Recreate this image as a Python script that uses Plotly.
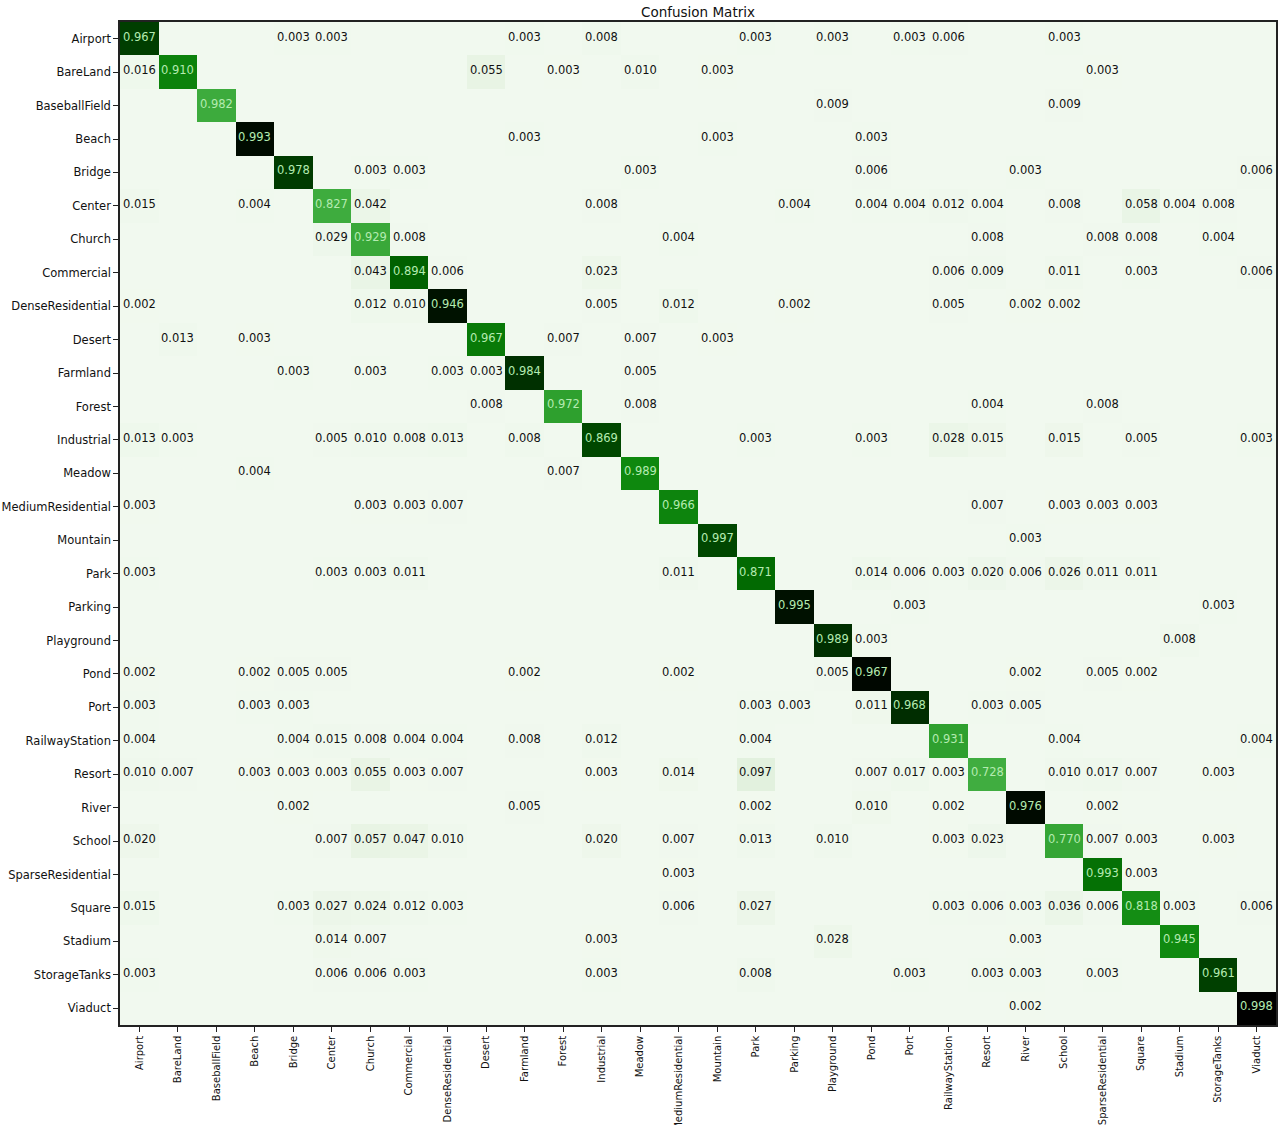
import plotly.graph_objects as go

labels = ["Airport", "BareLand", "BaseballField", "Beach", "Bridge", "Center", "Church",
          "Commercial", "DenseResidential", "Desert", "Farmland", "Forest", "Industrial",
          "Meadow", "MediumResidential", "Mountain", "Park", "Parking", "Playground", "Pond",
          "Port", "RailwayStation", "Resort", "River", "School", "SparseResidential",
          "Square", "Stadium", "StorageTanks", "Viaduct"]

# Approximate number of samples per class (drives the cell shading, as the
# original colours follow raw counts rather than the normalised values)
class_counts = [360, 310, 220, 400, 360, 260, 240, 350, 410, 300, 370, 250, 390, 280, 290,
                340, 350, 390, 370, 420, 380, 260, 290, 410, 300, 300, 330, 290, 360, 420]

# Normalised confusion matrix (rows = true class, columns = predicted class)
values = [
    [.967,0,0,0,.003,.003,0,0,0,0,.003,0,.008,0,0,0,.003,0,.003,0,.003,.006,0,0,.003,0,0,0,0,0],
    [.016,.910,0,0,0,0,0,0,0,.055,0,.003,0,.010,0,.003,0,0,0,0,0,0,0,0,0,.003,0,0,0,0],
    [0,0,.982,0,0,0,0,0,0,0,0,0,0,0,0,0,0,0,.009,0,0,0,0,0,.009,0,0,0,0,0],
    [0,0,0,.993,0,0,0,0,0,0,.003,0,0,0,0,.003,0,0,0,.003,0,0,0,0,0,0,0,0,0,0],
    [0,0,0,0,.978,0,.003,.003,0,0,0,0,0,.003,0,0,0,0,0,.006,0,0,0,.003,0,0,0,0,0,.006],
    [.015,0,0,.004,0,.827,.042,0,0,0,0,0,.008,0,0,0,0,.004,0,.004,.004,.012,.004,0,.008,0,.058,.004,.008,0],
    [0,0,0,0,0,.029,.929,.008,0,0,0,0,0,0,.004,0,0,0,0,0,0,0,.008,0,0,.008,.008,0,.004,0],
    [0,0,0,0,0,0,.043,.894,.006,0,0,0,.023,0,0,0,0,0,0,0,0,.006,.009,0,.011,0,.003,0,0,.006],
    [.002,0,0,0,0,0,.012,.010,.946,0,0,0,.005,0,.012,0,0,.002,0,0,0,.005,0,.002,.002,0,0,0,0,0],
    [0,.013,0,.003,0,0,0,0,0,.967,0,.007,0,.007,0,.003,0,0,0,0,0,0,0,0,0,0,0,0,0,0],
    [0,0,0,0,.003,0,.003,0,.003,.003,.984,0,0,.005,0,0,0,0,0,0,0,0,0,0,0,0,0,0,0,0],
    [0,0,0,0,0,0,0,0,0,.008,0,.972,0,.008,0,0,0,0,0,0,0,0,.004,0,0,.008,0,0,0,0],
    [.013,.003,0,0,0,.005,.010,.008,.013,0,.008,0,.869,0,0,0,.003,0,0,.003,0,.028,.015,0,.015,0,.005,0,0,.003],
    [0,0,0,.004,0,0,0,0,0,0,0,.007,0,.989,0,0,0,0,0,0,0,0,0,0,0,0,0,0,0,0],
    [.003,0,0,0,0,0,.003,.003,.007,0,0,0,0,0,.966,0,0,0,0,0,0,0,.007,0,.003,.003,.003,0,0,0],
    [0,0,0,0,0,0,0,0,0,0,0,0,0,0,0,.997,0,0,0,0,0,0,0,.003,0,0,0,0,0,0],
    [.003,0,0,0,0,.003,.003,.011,0,0,0,0,0,0,.011,0,.871,0,0,.014,.006,.003,.020,.006,.026,.011,.011,0,0,0],
    [0,0,0,0,0,0,0,0,0,0,0,0,0,0,0,0,0,.995,0,0,.003,0,0,0,0,0,0,0,.003,0],
    [0,0,0,0,0,0,0,0,0,0,0,0,0,0,0,0,0,0,.989,.003,0,0,0,0,0,0,0,.008,0,0],
    [.002,0,0,.002,.005,.005,0,0,0,0,.002,0,0,0,.002,0,0,0,.005,.967,0,0,0,.002,0,.005,.002,0,0,0],
    [.003,0,0,.003,.003,0,0,0,0,0,0,0,0,0,0,0,.003,.003,0,.011,.968,0,.003,.005,0,0,0,0,0,0],
    [.004,0,0,0,.004,.015,.008,.004,.004,0,.008,0,.012,0,0,0,.004,0,0,0,0,.931,0,0,.004,0,0,0,0,.004],
    [.010,.007,0,.003,.003,.003,.055,.003,.007,0,0,0,.003,0,.014,0,.097,0,0,.007,.017,.003,.728,0,.010,.017,.007,0,.003,0],
    [0,0,0,0,.002,0,0,0,0,0,.005,0,0,0,0,0,.002,0,0,.010,0,.002,0,.976,0,.002,0,0,0,0],
    [.020,0,0,0,0,.007,.057,.047,.010,0,0,0,.020,0,.007,0,.013,0,.010,0,0,.003,.023,0,.770,.007,.003,0,.003,0],
    [0,0,0,0,0,0,0,0,0,0,0,0,0,0,.003,0,0,0,0,0,0,0,0,0,0,.993,.003,0,0,0],
    [.015,0,0,0,.003,.027,.024,.012,.003,0,0,0,0,0,.006,0,.027,0,0,0,0,.003,.006,.003,.036,.006,.818,.003,0,.006],
    [0,0,0,0,0,.014,.007,0,0,0,0,0,.003,0,0,0,0,0,.028,0,0,0,0,.003,0,0,0,.945,0,0],
    [.003,0,0,0,0,.006,.006,.003,0,0,0,0,.003,0,0,0,.008,0,0,0,.003,0,.003,.003,0,.003,0,0,.961,0],
    [0,0,0,0,0,0,0,0,0,0,0,0,0,0,0,0,0,0,0,0,0,0,0,.002,0,0,0,0,0,.998],
]

n = len(labels)
assert all(len(r) == n for r in values) and len(values) == n

# shading = approximate raw counts
z = [[values[i][j] * class_counts[i] for j in range(n)] for i in range(n)]
zmax = max(max(r) for r in z)

colorscale = [
    [0.00, "#f1f9ef"],
    [0.05, "#e6f3e2"],
    [0.10, "#dbeed6"],
    [0.30, "#a6d99e"],
    [0.50, "#41ae41"],
    [0.58, "#2ea02e"],
    [0.66, "#0e880e"],
    [0.74, "#006400"],
    [0.82, "#004200"],
    [0.88, "#002c00"],
    [0.93, "#000f00"],
    [1.00, "#000000"],
]

fig = go.Figure(go.Heatmap(
    z=z, x=list(range(n)), y=list(range(n)),
    colorscale=colorscale, zmin=0, zmax=zmax,
    showscale=False, hoverinfo="skip",
))

thresh = 0.5
annotations = []
for i in range(n):
    for j in range(n):
        v = values[i][j]
        if v == 0:
            continue
        annotations.append(dict(
            x=j, y=i, xref="x", yref="y", text=f"{v:.3f}", showarrow=False,
            yshift=2,
            font=dict(family="DejaVu Sans", size=11.5,
                      color="#b4ebb0" if v > thresh else "#111111"),
        ))

fig.update_layout(
    width=1280, height=1125,
    margin=dict(l=120, r=4, t=22, b=100),
    paper_bgcolor="white", plot_bgcolor="white",
    title=dict(text="Confusion Matrix", x=(120 + 1276) / 2 / 1280, xanchor="center",
               y=1 - 12 / 1125, yanchor="middle",
               font=dict(family="DejaVu Sans", size=13.5, color="#111111")),
    annotations=annotations,
    font=dict(family="DejaVu Sans", size=11.5, color="#111111"),
)
fig.update_xaxes(
    tickmode="array", tickvals=list(range(n)), ticktext=labels, tickangle=-90,
    range=[-0.5, n - 0.5], showgrid=False, zeroline=False, automargin=False,
    ticks="outside", ticklen=5, tickcolor="#222", tickfont=dict(size=10),
    showline=True, linecolor="#222", linewidth=1.5, mirror=True,
)
fig.update_yaxes(
    tickmode="array", tickvals=list(range(n)), ticktext=labels,
    range=[n - 0.5, -0.5], showgrid=False, zeroline=False, automargin=False,
    ticks="outside", ticklen=5, tickcolor="#222", tickfont=dict(size=11.5),
    showline=True, linecolor="#222", linewidth=1.5, mirror=True,
)

fig.write_html("out.html", config={"displayModeBar": False},
               post_script="document.body.style.margin='0';")
